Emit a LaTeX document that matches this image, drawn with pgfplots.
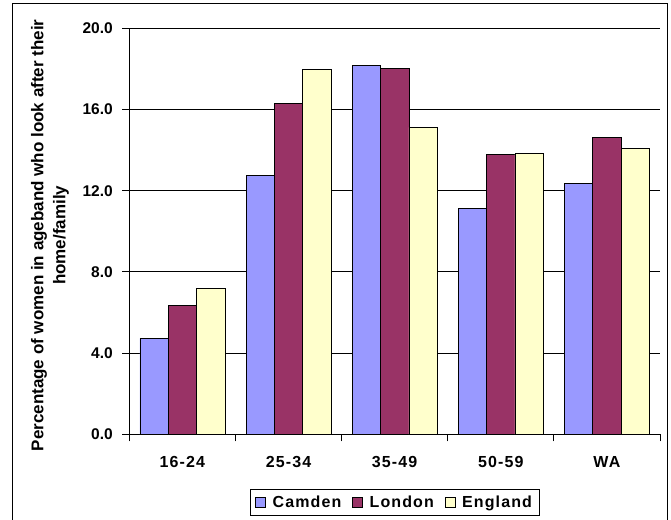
\documentclass[border=0pt]{standalone}
\usepackage{fontspec}
\setmainfont{Liberation Sans}
\newfontfamily\spaced[LetterSpace=7]{Liberation Sans}
\usepackage{pgfplots}
\pgfplotsset{compat=1.18}
\definecolor{camden}{HTML}{9999FF}
\definecolor{london}{HTML}{993366}
\definecolor{england}{HTML}{FFFFCC}
\begin{document}
\begin{tikzpicture}
\begin{axis}[
  at={(129.3pt,84.7pt)}, anchor=south west,
  scale only axis, width=530.7pt, height=406pt,
  xmin=0.5, xmax=5.5, ymin=0, ymax=20,
  ybar=0pt, bar width=28.3pt,
  axis x line*=bottom, axis y line*=left,
  axis line style={-, black, line width=0.8pt},
  ytick={0,4,...,20}, yticklabels={0.0,4.0,8.0,12.0,16.0,20.0},
  xtick={0.5,1.5,...,5.5}, xticklabels={},
  extra x ticks={1,2,3,4,5},
  extra x tick labels={16-24,25-34,35-49,50-59,WA},
  extra x tick style={major tick length=0pt,
    xticklabel style={yshift=-18.5pt, font=\fontsize{16}{18}\spaced\bfseries}},
  tick align=outside, major tick length=7pt,
  tick style={black, line width=0.8pt},
  ymajorgrids, grid style={black, line width=0.8pt},
  yticklabel style={xshift=-6pt, font=\fontsize{15.5}{18}\selectfont\bfseries},
  ylabel={Percentage of women in ageband who look after their\\home/family},
  ylabel style={at={(axis description cs:-0.1494,0.49)}, anchor=center, rotate=0,
    align=center, font=\fontsize{17}{22}\selectfont\bfseries},
  legend style={at={(0.5,-0.1667)}, anchor=center, legend columns=3,
    draw=black, line width=0.8pt, font=\fontsize{16}{18}\spaced\bfseries,
    inner xsep=5pt, inner ysep=4.5pt,
    /tikz/every even column/.append style={column sep=9pt}},
  legend image code/.code={\draw[#1, draw=black, line width=0.6pt] (0pt,-5pt) rectangle (10pt,5pt);
    \path[draw=none, fill=none] (0pt,0pt) -- (15pt,0pt);},
]
\addplot[fill=camden, draw=black, line width=0.6pt] coordinates {(1,4.73) (2,12.76) (3,18.18) (4,11.13) (5,12.36)};
\addplot[fill=london, draw=black, line width=0.6pt] coordinates {(1,6.35) (2,16.30) (3,18.03) (4,13.78) (5,14.63)};
\addplot[fill=england, draw=black, line width=0.6pt] coordinates {(1,7.19) (2,17.98) (3,15.12) (4,13.84) (5,14.09)};
\legend{Camden,London,England}
\end{axis}
\draw[black, line width=1pt] (12pt,-3pt) rectangle (667.5pt,515pt);
\pgfresetboundingbox
\useasboundingbox (0pt,0pt) rectangle (671pt,519pt);
\end{tikzpicture}
\end{document}
